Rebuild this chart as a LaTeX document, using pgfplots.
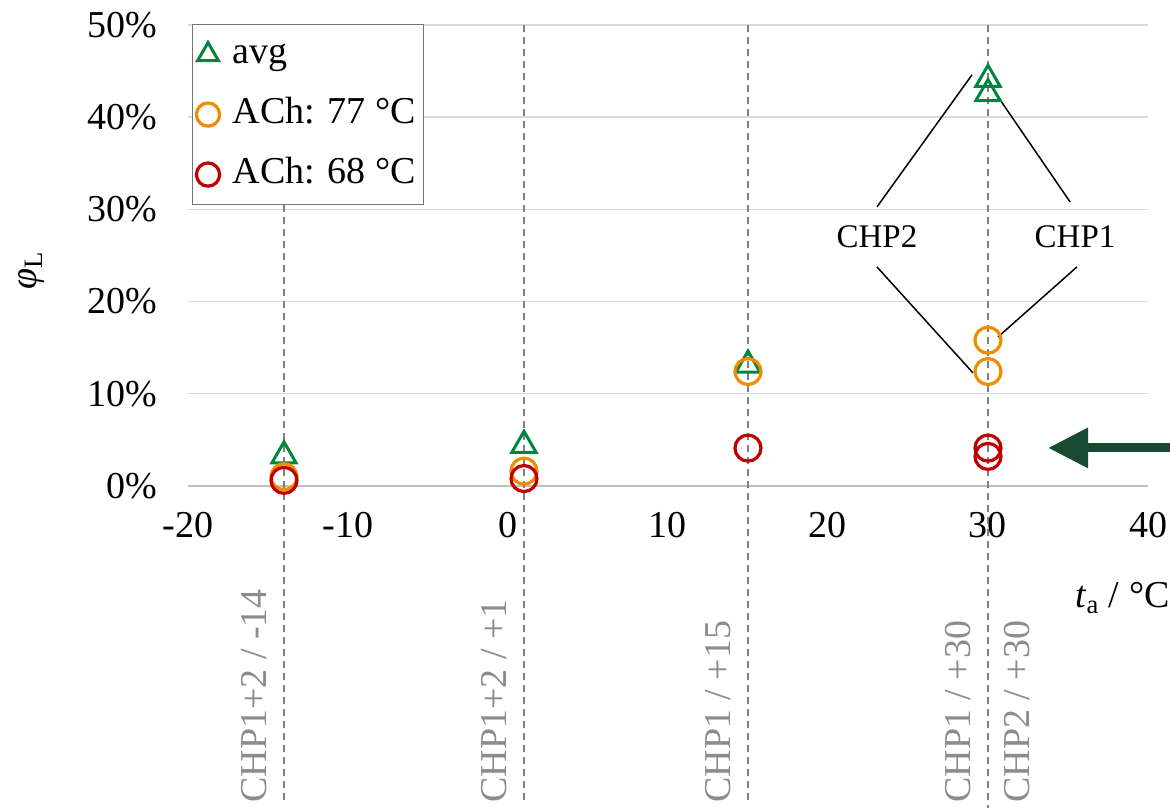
\documentclass[border=0pt]{standalone}
\usepackage{fontspec}
\setmainfont{Liberation Serif}
\usepackage{pgfplots}
\pgfplotsset{compat=1.18}
\usetikzlibrary{arrows.meta}
\definecolor{cgreen}{RGB}{0,133,62}
\definecolor{corange}{RGB}{240,140,0}
\definecolor{cred}{RGB}{192,0,0}
\definecolor{carrow}{RGB}{26,74,50}
\definecolor{cgrid}{RGB}{217,217,217}
\definecolor{caxis}{RGB}{191,191,191}
\definecolor{cdash}{RGB}{128,128,128}
\definecolor{clabel}{RGB}{140,140,140}
\definecolor{cleg}{RGB}{118,118,118}
\begin{document}
\begin{tikzpicture}
\begin{axis}[
  scale only axis, width=480pt, height=230.5pt,
  xmin=-20, xmax=40, ymin=0, ymax=50,
  axis line style={draw=none},
  xtick={-20,-10,...,40}, ytick={0,10,...,50},
  major tick length=0pt,
  ymajorgrids, major grid style={cgrid, line width=0.75pt},
  tick label style={font=\fontsize{19}{22}\selectfont},
  /pgf/number format/assume math mode=true,
  yticklabel={\pgfmathprintnumber{\tick}\%},
  yticklabel style={xshift=-12pt},
  xticklabel style={yshift=-9.5pt},
  clip=false,
  legend cell align=left,
  legend style={at={(axis description cs:0.004,1.002)}, anchor=north west,
    draw=cleg, line width=0.6pt, fill=white,
    font=\fontsize{19}{22}\selectfont,
    inner xsep=2pt, inner ysep=4.5pt, row sep=9pt,
    nodes={text height=13pt, text depth=4pt}},
  legend image code/.code={\draw[#1] plot coordinates {(0pt,0pt)}; \path (-4pt,0pt) (9.5pt,0pt);},
]
% base line at 0
\addplot[caxis, line width=0.9pt, forget plot] coordinates {(-20,0) (40,0)};
% dashed drop lines
\addplot[cdash, dash pattern=on 3.5pt off 2.5pt, line width=0.75pt, forget plot] coordinates {(-14,50) (-14,-34.5)};
\addplot[cdash, dash pattern=on 3.5pt off 2.5pt, line width=0.75pt, forget plot] coordinates {(1,50) (1,-34.5)};
\addplot[cdash, dash pattern=on 3.5pt off 2.5pt, line width=0.75pt, forget plot] coordinates {(15,50) (15,-34.5)};
\addplot[cdash, dash pattern=on 3.5pt off 2.5pt, line width=0.75pt, forget plot] coordinates {(30,50) (30,-34.9)};
% data
\addplot[only marks, mark=triangle, mark size=7pt, cgreen, line width=1.5pt, forget plot]
  coordinates {(-14,3.25) (1,4.4) (15,13.1) (30,44.1) (30,42.55)};
\addplot[only marks, mark=o, mark size=6.5pt, corange, line width=1.6pt, forget plot]
  coordinates {(-14,1.0) (1,1.6) (15,12.4) (30,15.8) (30,12.4)};
\addplot[only marks, mark=o, mark size=6.5pt, cred, line width=1.6pt, forget plot]
  coordinates {(-14,0.6) (1,0.8) (15,4.1) (30,4.1) (30,3.2)};
% legend
\addlegendimage{only marks, mark=triangle, mark size=6pt, cgreen, line width=1.5pt}
\addlegendentry{avg}
\addlegendimage{only marks, mark=o, mark size=5.8pt, corange, line width=1.6pt}
\addlegendentry{ACh: 77 °C}
\addlegendimage{only marks, mark=o, mark size=5.8pt, cred, line width=1.6pt}
\addlegendentry{ACh: 68 °C}
% annotations
\draw[black, line width=0.75pt] (axis cs:23.06,30.26) -- (axis cs:29.0,44.58);
\draw[black, line width=0.75pt] (axis cs:35.13,30.8) -- (axis cs:30.63,42.19);
\draw[black, line width=0.75pt] (axis cs:23.06,23.75) -- (axis cs:29.06,12.26);
\draw[black, line width=0.75pt] (axis cs:35.56,23.75) -- (axis cs:30.63,16.16);
\node[font=\fontsize{16.5}{19}\selectfont] at (axis cs:23.06,27.0) {CHP2};
\node[font=\fontsize{16.5}{19}\selectfont] at (axis cs:35.44,27.0) {CHP1};
% arrow
\draw[carrow, line width=4.5pt, -{Triangle[length=20pt, width=19pt]}] (axis cs:41.375,4.12) -- (axis cs:33.75,4.12);
% rotated labels
\node[rotate=90, anchor=base west, inner sep=0pt, text=clabel, font=\fontsize{19}{22}\selectfont] at (axis cs:-15.1,-34.4) {CHP1+2 / -14};
\node[rotate=90, anchor=base west, inner sep=0pt, text=clabel, font=\fontsize{19}{22}\selectfont] at (axis cs:-0.1,-34.4) {CHP1+2 / +1};
\node[rotate=90, anchor=base west, inner sep=0pt, text=clabel, font=\fontsize{19}{22}\selectfont] at (axis cs:13.9,-34.4) {CHP1 / +15};
\node[rotate=90, anchor=base west, inner sep=0pt, text=clabel, font=\fontsize{19}{22}\selectfont] at (axis cs:28.9,-34.4) {CHP1 / +30};
\node[rotate=90, anchor=base west, inner sep=0pt, text=clabel, font=\fontsize{19}{22}\selectfont] at (axis cs:32.6,-34.4) {CHP2 / +30};
% axis labels
\node[anchor=base east, inner sep=0pt, font=\fontsize{19}{22}\selectfont] at (axis cs:41.375,-13.23) {\textit{t}\textsubscript{a} / °C};
\node[rotate=90, font=\fontsize{19}{22}\selectfont] at (axis cs:-29.75,23.4) {\textit{φ}\textsubscript{L}};
\coordinate (bbl) at (axis cs:-31.75,-34.92);
\coordinate (btr) at (axis cs:41.375,52.7);
\end{axis}
\pgfresetboundingbox
\useasboundingbox (bbl) rectangle (btr);
\end{tikzpicture}
\end{document}
